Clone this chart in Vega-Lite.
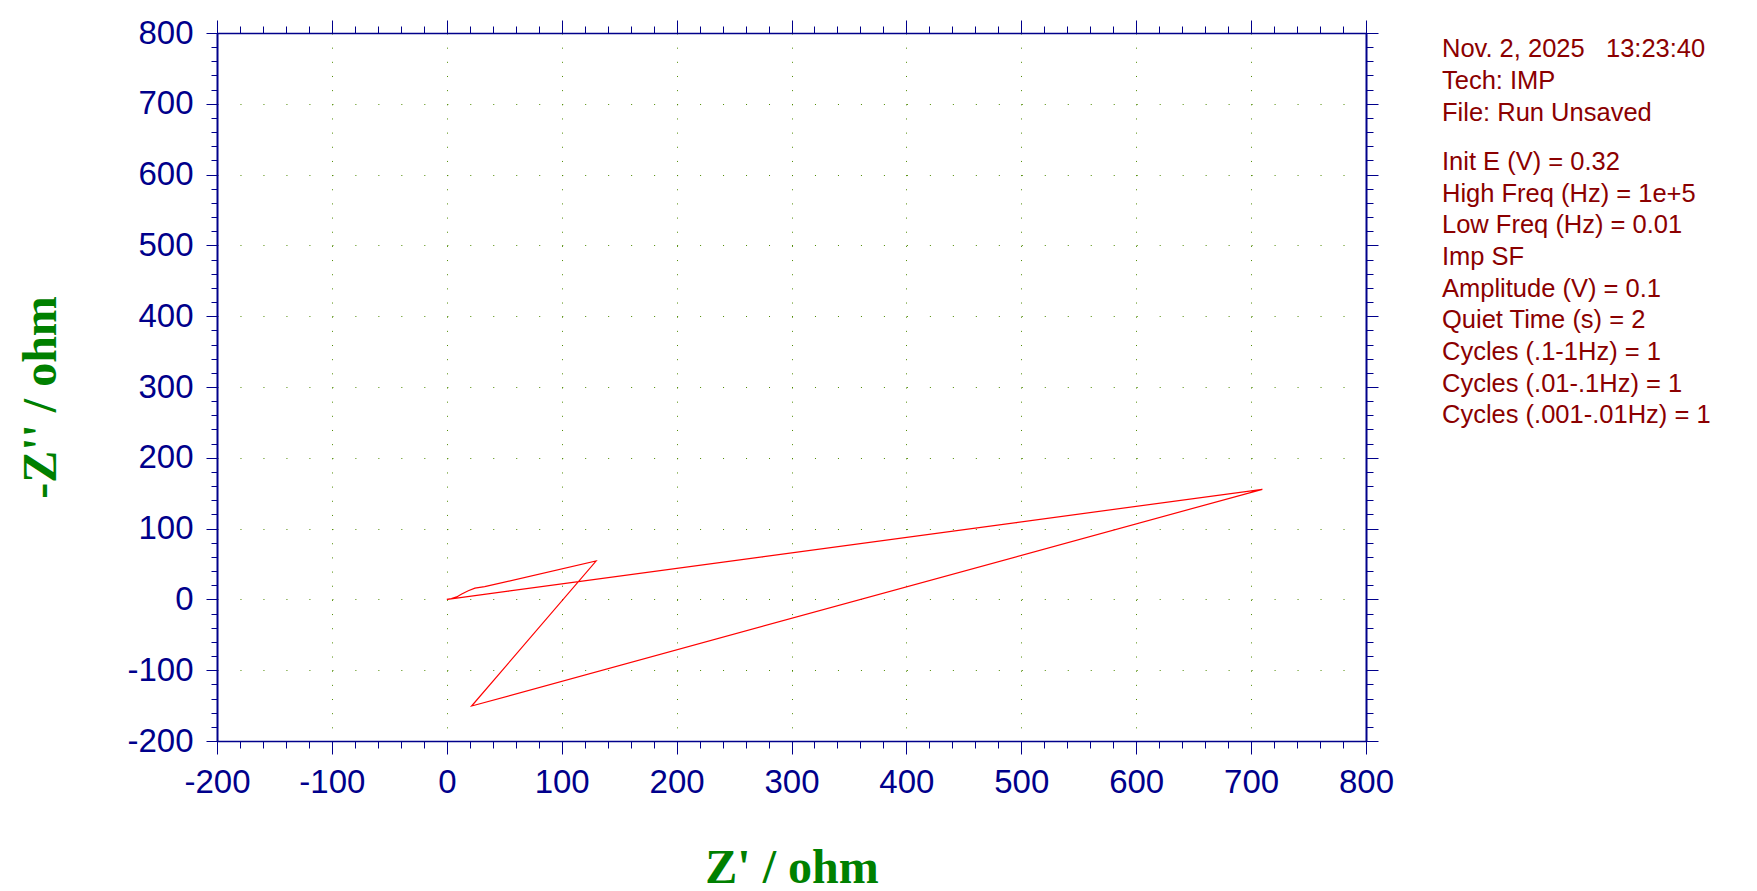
{
  "$schema": "https://vega.github.io/schema/vega-lite/v6.json",
  "width": 1149,
  "height": 708,
  "autosize": {"type": "none"},
  "padding": {"left": 217, "top": 33, "right": 391, "bottom": 150},
  "background": "white",
  "config": {"view": {"stroke": null}},
  "title": {
    "text": ["Nov. 2, 2025\u00a0\u00a0\u00a013:23:40", "Tech: IMP", "File: Run Unsaved"],
    "subtitle": ["Init E (V) = 0.32", "High Freq (Hz) = 1e+5", "Low Freq (Hz) = 0.01", "Imp SF", "Amplitude (V) = 0.1", "Quiet Time (s) = 2", "Cycles (.1-1Hz) = 1", "Cycles (.01-.1Hz) = 1", "Cycles (.001-.01Hz) = 1"],
    "orient": "top",
    "anchor": "start",
    "frame": "group",
    "align": "left",
    "dx": 1225,
    "dy": 412,
    "offset": 0,
    "font": "Liberation Sans",
    "fontSize": 25.5,
    "fontWeight": "normal",
    "color": "#8B0000",
    "lineHeight": 32.3,
    "subtitleFont": "Liberation Sans",
    "subtitleFontSize": 25.5,
    "subtitleFontWeight": "normal",
    "subtitleColor": "#8B0000",
    "subtitleLineHeight": 31.7,
    "subtitlePadding": 23
  },
  "data": {
    "values": [
      {"i": 0, "zre": 0, "zim": 0},
      {"i": 1, "zre": 4, "zim": 1.2},
      {"i": 2, "zre": 8.6, "zim": 3.5},
      {"i": 3, "zre": 13, "zim": 7.6},
      {"i": 4, "zre": 18.7, "zim": 12.3},
      {"i": 5, "zre": 24.5, "zim": 16},
      {"i": 6, "zre": 33, "zim": 18},
      {"i": 7, "zre": 129.9, "zim": 54.2},
      {"i": 8, "zre": 21.6, "zim": -150.6},
      {"i": 9, "zre": 709.8, "zim": 155.5},
      {"i": 10, "zre": 0.5, "zim": 0}
    ]
  },
  "layer": [
    {
      "mark": {"type": "line", "color": "#FF0000", "strokeWidth": 1.2},
      "encoding": {
        "order": {"field": "i", "type": "quantitative"},
        "x": {
          "field": "zre", "type": "quantitative",
          "scale": {"domain": [-200, 800], "nice": false, "zero": false},
          "axis": {
            "orient": "bottom",
            "values": [-200, -100, 0, 100, 200, 300, 400, 500, 600, 700, 800],
            "labelExpr": "'' + datum.value",
            "tickSize": 13, "tickWidth": 1, "tickColor": "#00008B",
            "domain": true, "domainColor": "#00008B", "domainWidth": 1.5,
            "labelFont": "Liberation Sans", "labelFontSize": 33, "labelColor": "#00008B",
            "labelPadding": 12, "labelFlush": false, "labelOverlap": false,
            "grid": true, "gridColor": "#4E8A00", "gridDash": [1, 13.16], "gridWidth": 1,
            "title": "Z' / ohm", "titleFont": "Liberation Serif", "titleFontSize": 48,
            "titleFontWeight": "bold", "titleColor": "#008000",
            "titleBaseline": "alphabetic", "titleY": 141, "titleX": 574.5, "titleAlign": "center"
          }
        },
        "y": {
          "field": "zim", "type": "quantitative",
          "scale": {"domain": [-200, 800], "nice": false, "zero": false},
          "axis": {
            "orient": "left",
            "values": [-200, -100, 0, 100, 200, 300, 400, 500, 600, 700, 800],
            "labelExpr": "'' + datum.value",
            "tickSize": 11, "tickWidth": 1, "tickColor": "#00008B",
            "domain": true, "domainColor": "#00008B", "domainWidth": 2,
            "labelFont": "Liberation Sans", "labelFontSize": 33, "labelColor": "#00008B",
            "labelPadding": 13, "labelFlush": false, "labelOverlap": false,
            "grid": true, "gridColor": "#4E8A00", "gridDash": [1, 21.98], "gridWidth": 1,
            "title": "-Z'' / ohm", "titleFont": "Liberation Serif", "titleFontSize": 48,
            "titleFontWeight": "bold", "titleColor": "#008000",
            "titleAngle": 270, "titleBaseline": "alphabetic", "titleAlign": "center",
            "titleX": -161.5, "titleY": 364
          }
        }
      }
    },
    {
      "mark": {"type": "line", "strokeOpacity": 0},
      "encoding": {
        "order": {"field": "i", "type": "quantitative"},
        "x": {
          "field": "zre", "type": "quantitative",
          "scale": {"domain": [-200, 800], "nice": false, "zero": false},
          "axis": {
            "orient": "bottom",
            "values": [-200, -180, -160, -140, -120, -100, -80, -60, -40, -20, 0, 20, 40, 60, 80, 100, 120, 140, 160, 180, 200, 220, 240, 260, 280, 300, 320, 340, 360, 380, 400, 420, 440, 460, 480, 500, 520, 540, 560, 580, 600, 620, 640, 660, 680, 700, 720, 740, 760, 780, 800],
            "tickSize": 7, "tickWidth": 1, "tickColor": "#00008B",
            "domain": false, "labels": false, "grid": false, "title": null
          }
        },
        "y": {
          "field": "zim", "type": "quantitative",
          "scale": {"domain": [-200, 800], "nice": false, "zero": false},
          "axis": {
            "orient": "left",
            "values": [-200, -180, -160, -140, -120, -100, -80, -60, -40, -20, 0, 20, 40, 60, 80, 100, 120, 140, 160, 180, 200, 220, 240, 260, 280, 300, 320, 340, 360, 380, 400, 420, 440, 460, 480, 500, 520, 540, 560, 580, 600, 620, 640, 660, 680, 700, 720, 740, 760, 780, 800],
            "tickSize": 6, "tickWidth": 1, "tickColor": "#00008B",
            "domain": false, "labels": false, "grid": false, "title": null
          }
        }
      }
    },
    {
      "mark": {"type": "line", "strokeOpacity": 0},
      "encoding": {
        "order": {"field": "i", "type": "quantitative"},
        "x": {
          "field": "zre", "type": "quantitative",
          "scale": {"domain": [-200, 800], "nice": false, "zero": false},
          "axis": {
            "orient": "top",
            "values": [-200, -100, 0, 100, 200, 300, 400, 500, 600, 700, 800],
            "tickSize": 13, "tickWidth": 1, "tickColor": "#00008B",
            "domain": true, "domainColor": "#00008B", "domainWidth": 1.5,
            "labels": false, "grid": false, "title": null
          }
        },
        "y": {
          "field": "zim", "type": "quantitative",
          "scale": {"domain": [-200, 800], "nice": false, "zero": false},
          "axis": {
            "orient": "right",
            "values": [-200, -100, 0, 100, 200, 300, 400, 500, 600, 700, 800],
            "tickSize": 12, "tickWidth": 1, "tickColor": "#00008B",
            "domain": true, "domainColor": "#00008B", "domainWidth": 2,
            "labels": false, "grid": false, "title": null
          }
        }
      }
    },
    {
      "mark": {"type": "line", "strokeOpacity": 0},
      "encoding": {
        "order": {"field": "i", "type": "quantitative"},
        "x": {
          "field": "zre", "type": "quantitative",
          "scale": {"domain": [-200, 800], "nice": false, "zero": false},
          "axis": {
            "orient": "top",
            "values": [-200, -180, -160, -140, -120, -100, -80, -60, -40, -20, 0, 20, 40, 60, 80, 100, 120, 140, 160, 180, 200, 220, 240, 260, 280, 300, 320, 340, 360, 380, 400, 420, 440, 460, 480, 500, 520, 540, 560, 580, 600, 620, 640, 660, 680, 700, 720, 740, 760, 780, 800],
            "tickSize": 7, "tickWidth": 1, "tickColor": "#00008B",
            "domain": false, "labels": false, "grid": false, "title": null
          }
        },
        "y": {
          "field": "zim", "type": "quantitative",
          "scale": {"domain": [-200, 800], "nice": false, "zero": false},
          "axis": {
            "orient": "right",
            "values": [-200, -180, -160, -140, -120, -100, -80, -60, -40, -20, 0, 20, 40, 60, 80, 100, 120, 140, 160, 180, 200, 220, 240, 260, 280, 300, 320, 340, 360, 380, 400, 420, 440, 460, 480, 500, 520, 540, 560, 580, 600, 620, 640, 660, 680, 700, 720, 740, 760, 780, 800],
            "tickSize": 7, "tickWidth": 1, "tickColor": "#00008B",
            "domain": false, "labels": false, "grid": false, "title": null
          }
        }
      }
    }
  ],
  "resolve": {"axis": {"x": "independent", "y": "independent"}}
}
